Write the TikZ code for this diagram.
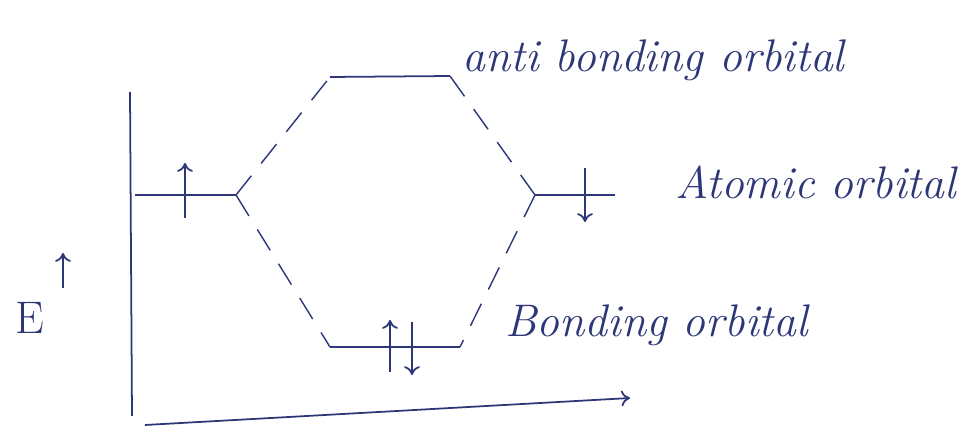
\documentclass[tikz,border=0pt]{standalone}
\usetikzlibrary{positioning,arrows.meta}
\definecolor{ink}{RGB}{45,55,120}
\tikzset{
    >={To[length=5pt,width=9pt]},
    level/.style={ink, line width=1pt},
    link/.style={ink, line width=0.8pt, dash pattern=on 14pt off 9pt},
    spin/.style={ink, line width=1pt, ->},
    lbl/.style={ink, font=\fontsize{26}{28}\selectfont\itshape, inner sep=0pt}
}
\begin{document}
\begin{tikzpicture}[x=0.02cm, y=-0.02cm]
    \useasboundingbox (0,0) rectangle (961,432);

    % Axes
    \coordinate (ytop) at (130,92);
    \coordinate (ybot) at (132,416);
    \coordinate (xleft) at (145,425);
    \coordinate (xright) at (630,398);
    \draw[ink, line width=1pt] (ytop) -- (ybot);
    \draw[ink, line width=1pt, ->] (xleft) -- (xright);
    \node[ink, font=\fontsize{26}{28}\selectfont] (E) at (30,318) {E};
    \coordinate (eb) at (63,288);
    \coordinate (et) at (63,253);
    \draw[spin] (eb) -- (et);

    % Atomic orbitals
    \coordinate (aoLa) at (135,195);
    \coordinate (aoLb) at (236,195);
    \coordinate (aoRa) at (535,195);
    \coordinate (aoRb) at (615,195);
    \draw[level] (aoLa) -- (aoLb);
    \draw[level] (aoRa) -- (aoRb);

    % Molecular orbitals
    \coordinate (abA) at (330,77);
    \coordinate (abB) at (450,76);
    \coordinate (bA) at (330,347);
    \coordinate (bB) at (460,347);
    \draw[level] (abA) -- (abB);
    \draw[level] (bA) -- (bB);

    % Correlation lines
    \draw[link] (aoLb) -- (abA);
    \draw[link] (aoLb) -- (bA);
    \draw[link] (aoRa) -- (abB);
    \draw[link] (aoRa) -- (bB);

    % Electrons
    \coordinate (s1b) at (185,218);
    \coordinate (s1t) at (185,163);
    \coordinate (s2t) at (585,168);
    \coordinate (s2b) at (585,222);
    \coordinate (s3b) at (390,372);
    \coordinate (s3t) at (390,320);
    \coordinate (s4t) at (412,322);
    \coordinate (s4b) at (412,375);
    \draw[spin] (s1b) -- (s1t);
    \draw[spin] (s2t) -- (s2b);
    \draw[spin] (s3b) -- (s3t);
    \draw[spin] (s4t) -- (s4b);

    % Labels
    \node[lbl, anchor=west] (antilbl) at (462,60) {anti bonding orbital};
    \node[lbl, anchor=west] (atomlbl) at (675,182) {Atomic orbital};
    \node[lbl, anchor=west] (bondlbl) at (505,325) {Bonding orbital};
\end{tikzpicture}
\end{document}
